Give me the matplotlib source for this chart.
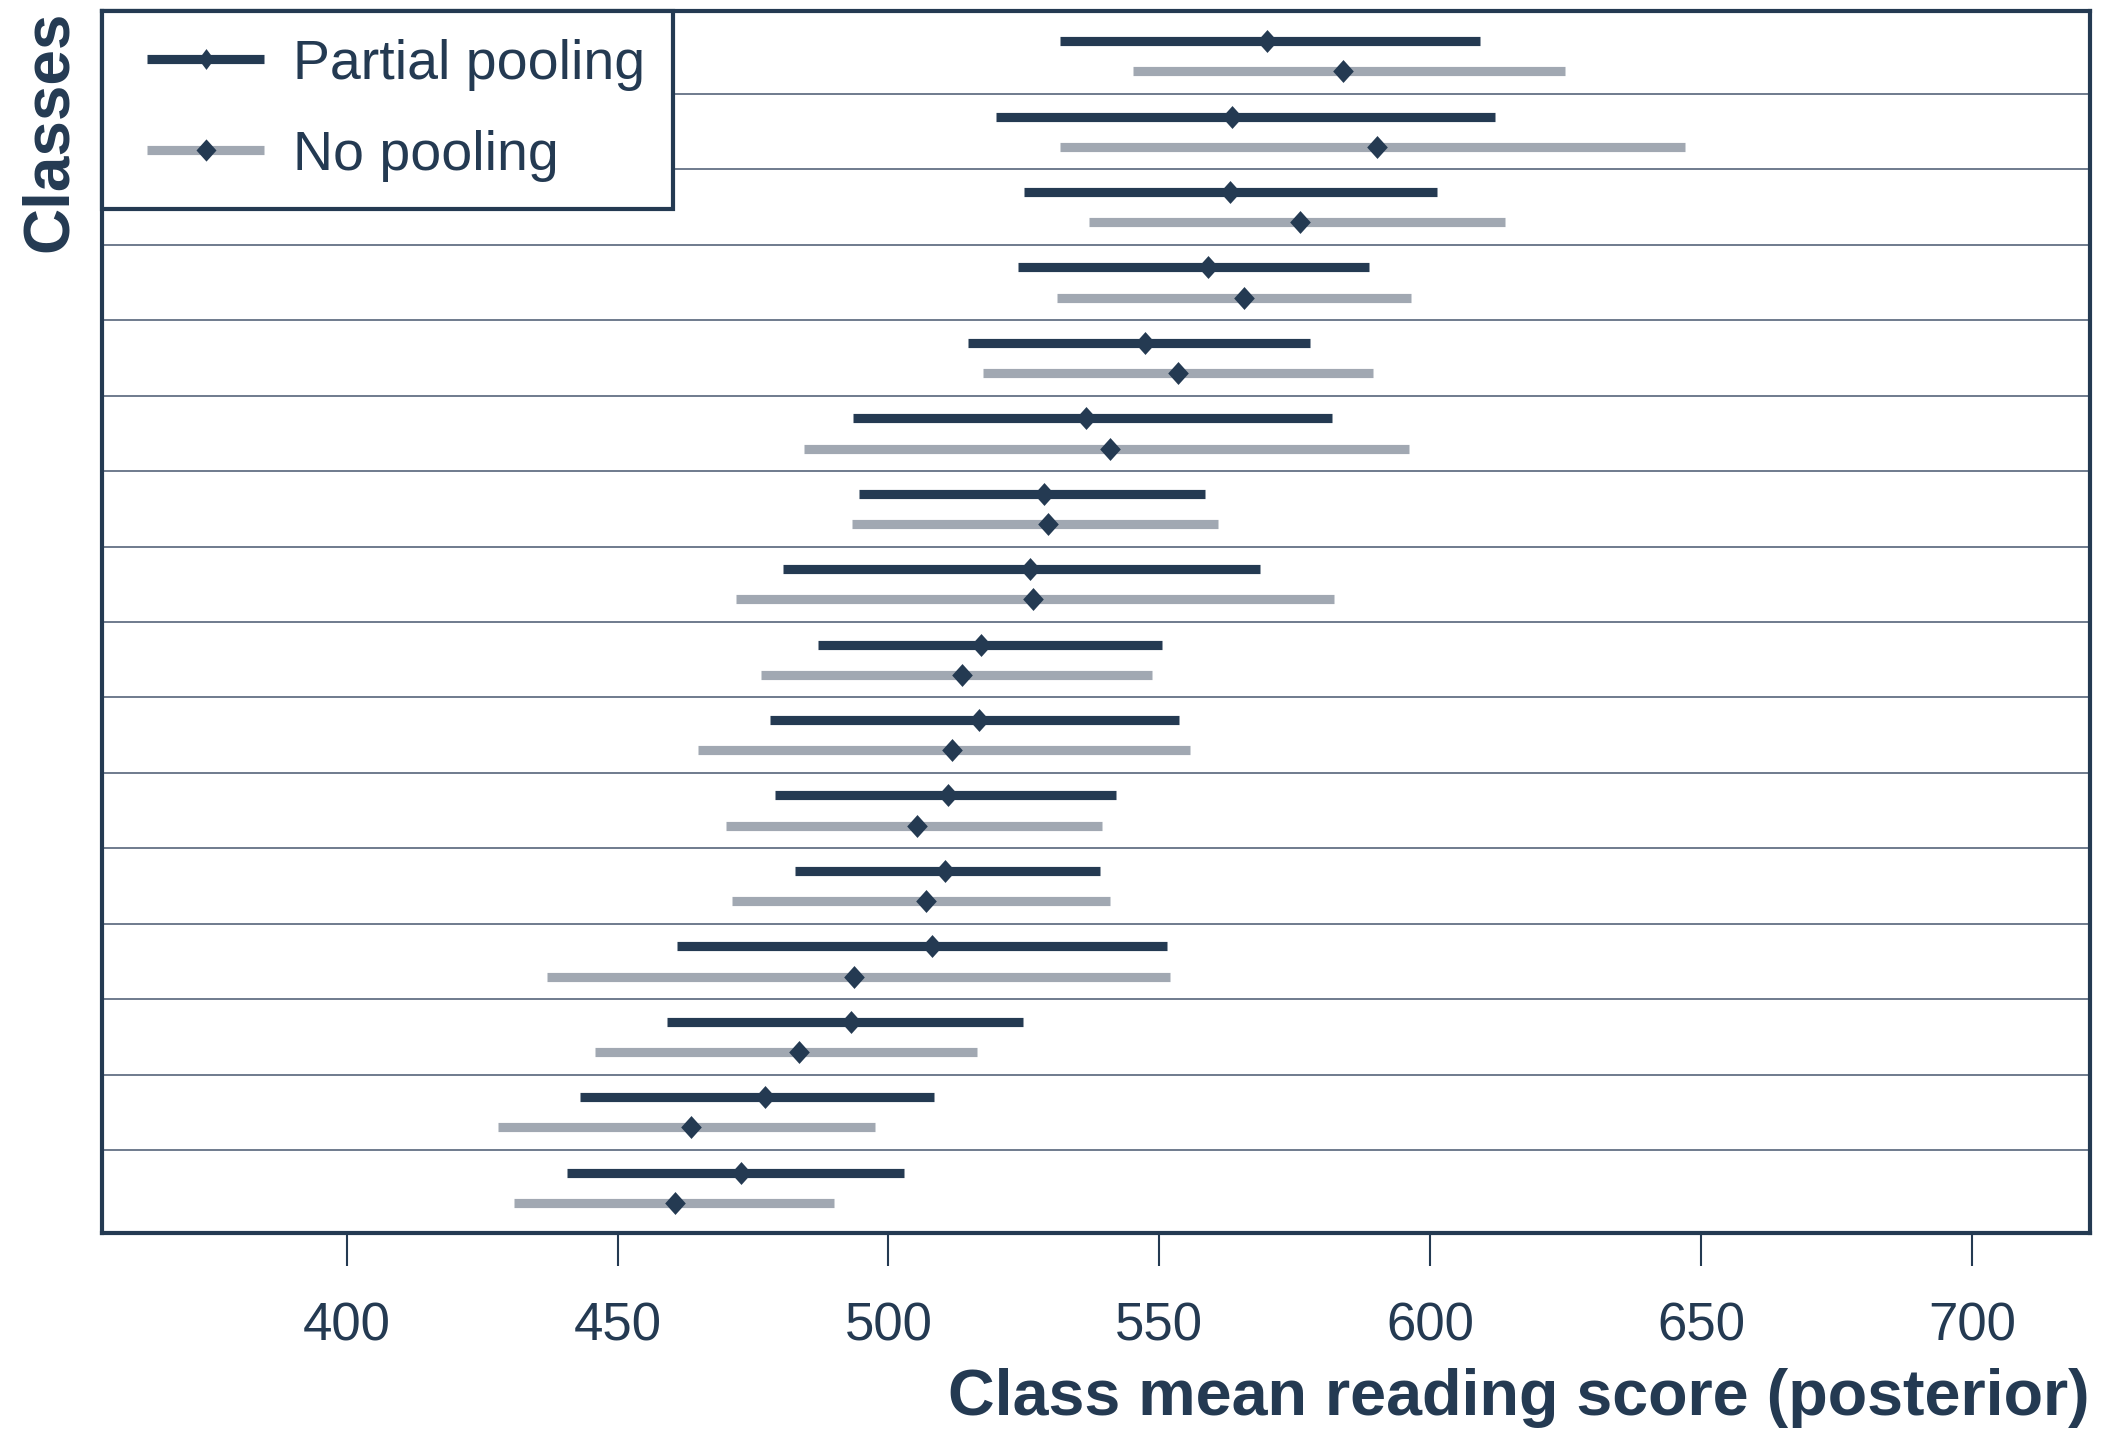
import matplotlib
matplotlib.use("Agg")
import matplotlib.pyplot as plt
from matplotlib.path import Path
from matplotlib.legend_handler import HandlerLine2D
import numpy as np

# posterior class means (bottom class first), 16 classes
partial_mean = [472.7, 477.3, 493.1, 508.0, 510.4, 510.9, 516.7, 517.0,
                526.2, 528.7, 536.5, 547.4, 559.0, 563.0, 563.5, 569.9]
partial_lo = [440.7, 443.1, 459.2, 461.0, 482.7, 479.0, 478.2, 487.0,
              480.5, 494.6, 493.4, 514.6, 523.9, 525.0, 519.8, 531.7]
partial_hi = [502.9, 508.4, 524.8, 551.4, 539.1, 542.0, 553.7, 550.5,
              568.5, 558.4, 581.9, 577.9, 588.8, 601.2, 611.9, 609.2]

nopool_mean = [460.6, 463.5, 483.4, 493.6, 506.9, 505.2, 511.7, 513.5,
               526.7, 529.4, 540.9, 553.5, 565.6, 575.9, 590.2, 583.9]
nopool_lo = [430.9, 427.9, 445.9, 437.0, 471.2, 470.1, 464.9, 476.4,
             471.9, 493.2, 484.5, 517.5, 531.1, 537.0, 531.6, 545.1]
nopool_hi = [490.0, 497.5, 516.4, 552.0, 540.9, 539.4, 555.7, 548.6,
             582.3, 560.9, 596.1, 589.4, 596.4, 613.9, 647.0, 624.8]

xticks = [400, 450, 500, 550, 600, 650, 700]

dark = "#243a52"
grey = "#a1a8b2"

codes = [Path.MOVETO, Path.LINETO, Path.LINETO, Path.LINETO, Path.CLOSEPOLY]
mid_d = Path([(0, 1), (0.75, 0), (0, -1), (-0.75, 0), (0, 1)], codes)
wide_d = Path([(0, 1), (0.9, 0), (0, -1), (-0.9, 0), (0, 1)], codes)

plt.rcParams['font.family'] = ['Liberation Sans', 'DejaVu Sans']

fig = plt.figure(figsize=(21.1, 14.35), dpi=100)
ax = fig.add_axes([0.0483, 0.1408, 0.9422, 0.8515])

n = len(partial_mean)
ypos = np.arange(n)
bar_lw = 6.6

for i in range(n):
    ax.plot([partial_lo[i], partial_hi[i]], [ypos[i] + 0.2] * 2, color=dark,
            lw=bar_lw, solid_capstyle='butt', zorder=3)
    ax.plot([nopool_lo[i], nopool_hi[i]], [ypos[i] - 0.2] * 2, color=grey,
            lw=bar_lw, solid_capstyle='butt', zorder=3)

ax.plot(partial_mean, ypos + 0.2, ls='none', marker=wide_d, color=dark,
        ms=16.5, mew=0, zorder=4)
ax.plot(nopool_mean, ypos - 0.2, ls='none', marker=wide_d, color=dark,
        ms=16.5, mew=0, zorder=4)

# row separators
for y in np.arange(0.5, n - 1, 1.0):
    ax.axhline(y, color="#56657a", lw=1.2, zorder=1)

ax.set_xlim(354.8, 721.8)
ax.set_ylim(-0.6, n - 0.4)
ax.set_xticks(xticks)
ax.set_yticks([])
ax.tick_params(axis='x', direction='out', length=24, width=1.5, color=dark,
               labelsize=38, labelcolor=dark, pad=25)

for side in ['left', 'right', 'top', 'bottom']:
    ax.spines[side].set_color(dark)
    ax.spines[side].set_linewidth(3)

ax.set_xlabel("Class mean reading score (posterior)", fontsize=46.5,
              fontweight='bold', color=dark, loc='right', labelpad=12)
ax.set_ylabel("Classes", fontsize=46, fontweight='bold', color=dark,
              loc='top', labelpad=16)

# legend handles
h1, = ax.plot([], [], color=dark, lw=bar_lw, marker=mid_d, ms=15, mew=0,
              solid_capstyle='butt')
h2, = ax.plot([], [], color=grey, lw=bar_lw, marker=wide_d, mfc=dark, ms=16,
              mew=0, solid_capstyle='butt')
hm = {h1: HandlerLine2D(xpad=0.32), h2: HandlerLine2D(xpad=0.32)}
leg = ax.legend([h1, h2], ["Partial pooling", "No pooling"], loc='upper left',
                fontsize=40, frameon=True, fancybox=False, borderaxespad=0,
                borderpad=0.5, labelspacing=0.7, handletextpad=0.53,
                handlelength=2.41, framealpha=1, handler_map=hm)
leg.get_frame().set_edgecolor(dark)
leg.get_frame().set_linewidth(3)
for t in leg.get_texts():
    t.set_color(dark)

fig.savefig("out.png", dpi=100)
